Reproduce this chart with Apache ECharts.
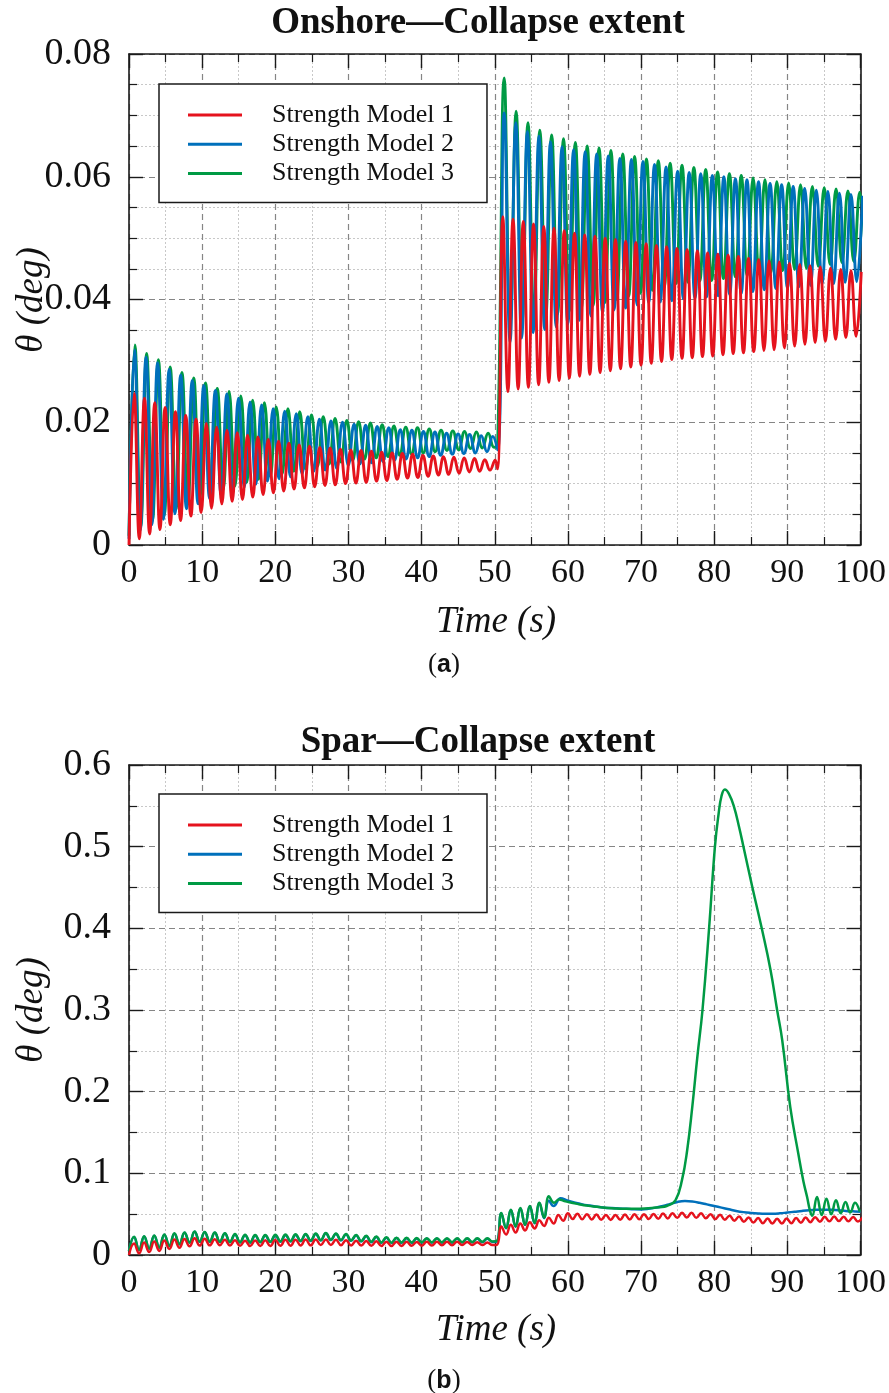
<!DOCTYPE html>
<html>
<head>
<meta charset="utf-8">
<script src="https://cdn.jsdelivr.net/npm/echarts@6/dist/echarts.min.js"></script>
<style>
  html, body { margin: 0; padding: 0; background: #fff; }
  #chart { width: 889px; height: 1393px; }
</style>
</head>
<body>
<div id="chart"></div>
<script>
// ---------------- DATA ----------------
const NAMES = ['Strength Model 1', 'Strength Model 2', 'Strength Model 3'];
const COLORS = ['#e5131d', '#0070bb', '#009a44'];

const X_TICKS = [0, 10, 20, 30, 40, 50, 60, 70, 80, 90, 100];
const TOP_Y_TICKS = [0, 0.02, 0.04, 0.06, 0.08];
const BOT_Y_TICKS = [0, 0.1, 0.2, 0.3, 0.4, 0.5, 0.6];

// Runs of successive extrema: *_T = [time of first value (s), time between values (s)]
// ---- (a) Onshore ----
const TOP_RED_A_T = [0, 0.705];
const TOP_RED_A = [0, .0247, .0010, .0239, .0018, .0232, .0025, .0224, .0033, .0217, .0040,
  .0211, .0047, .0205, .0053, .0198, .0060, .0192, .0067, .0187, .0071,
  .0183, .0074, .0179, .0078, .0176, .0082, .0172, .0085, .0169, .0088,
  .0166, .0091, .0163, .0093, .0161, .0095, .0159, .0097, .0158, .0098,
  .0156, .0100, .0155, .0101, .0154, .0102, .0153, .0104, .0151, .0105,
  .0150, .0107, .0149, .0109, .0148, .0110, .0146, .0112, .0145, .0114,
  .0144, .0115, .0143, .0117, .0142, .0119, .0141, .0120, .0139, .0122, .0138];
const TOP_RED_JUMP = [[50.38, 0.0124]];
const TOP_RED_B_T = [51.1, 0.70];
const TOP_RED_B = [.0535, .0250, .0531, .0254, .0527, .0257, .0523, .0261, .0519, .0265,
  .0516, .0268, .0512, .0272, .0508, .0275, .0505, .0278, .0503, .0281,
  .0500, .0284, .0498, .0287, .0495, .0290, .0493, .0293, .0491, .0296,
  .0488, .0299, .0486, .0302, .0483, .0304, .0481, .0305, .0479, .0307,
  .0476, .0308, .0474, .0310, .0472, .0312, .0470, .0313, .0467, .0315,
  .0465, .0317, .0463, .0318, .0461, .0321, .0459, .0324, .0457, .0327,
  .0455, .0330, .0453, .0332, .0451, .0335, .0449, .0338, .0447, .0340, .0445];

const TOP_BLUE_START = [[0, 0.0010]];
const TOP_BLUE_A_T = [0.75, 0.79];
const TOP_BLUE_A = [.0318, .0024, .0306, .0033, .0297, .0042, .0286, .0051, .0277, .0059,
  .0268, .0067, .0260, .0076, .0252, .0082, .0246, .0088, .0239, .0094,
  .0233, .0099, .0228, .0104, .0222, .0108, .0218, .0111, .0214, .0116,
  .0209, .0120, .0205, .0122, .0202, .0125, .0200, .0130, .0197, .0132,
  .0195, .0134, .0193, .0136, .0191, .0138, .0188, .0140, .0187, .0142,
  .0185, .0144, .0184, .0146, .0182, .0148, .0181, .0149, .0180, .0150,
  .0178, .0152, .0177];
const TOP_BLUE_JUMP = [[50.4, 0.0155]];
const TOP_BLUE_B_T = [51.3, 0.79];
const TOP_BLUE_B = [.0704, .0330, .0688, .0337, .0674, .0346, .0666, .0351, .0657, .0355,
  .0649, .0360, .0644, .0366, .0641, .0373, .0637, .0379, .0634, .0383,
  .0630, .0386, .0628, .0391, .0625, .0395, .0620, .0396, .0616, .0398,
  .0609, .0401, .0607, .0402, .0605, .0404, .0602, .0406, .0600, .0408,
  .0597, .0410, .0595, .0413, .0592, .0416, .0589, .0418, .0587, .0419,
  .0584, .0421, .0581, .0423, .0578, .0425, .0576, .0426, .0573, .0428,
  .0571, .0429, .0569];

const TOP_GREEN_START = [[0, 0.0015]];
const TOP_GREEN_A_T = [0.8, 0.805];
const TOP_GREEN_A = [.0326, .0030, .0312, .0040, .0302, .0049, .0290, .0059, .0281, .0067,
  .0272, .0075, .0264, .0084, .0255, .0090, .0250, .0096, .0243, .0102,
  .0236, .0107, .0232, .0112, .0225, .0116, .0222, .0120, .0217, .0124,
  .0212, .0128, .0209, .0132, .0206, .0135, .0203, .0138, .0201, .0140,
  .0199, .0142, .0196, .0144, .0194, .0146, .0192, .0148, .0191, .0150,
  .0189, .0152, .0187, .0154, .0186, .0155, .0185, .0157, .0184, .0158,
  .0182, .0159];
const TOP_GREEN_JUMP = [[50.4, 0.0165]];
const TOP_GREEN_B_T = [51.3, 0.81];
const TOP_GREEN_B = [.0761, .0360, .0707, .0363, .0688, .0371, .0676, .0373, .0668, .0376,
  .0662, .0381, .0656, .0385, .0650, .0390, .0647, .0395, .0643, .0400,
  .0637, .0405, .0633, .0410, .0629, .0415, .0626, .0420, .0622, .0426,
  .0619, .0428, .0615, .0430, .0612, .0431, .0608, .0434, .0605, .0437,
  .0602, .0439, .0598, .0442, .0595, .0444, .0592, .0447, .0590, .0449,
  .0587, .0451, .0584, .0454, .0582, .0457, .0580, .0460, .0577, .0462,
  .0575, .0463];

// ---- (b) Spar ----
const BOT_RED_A_T = [0, 0.69];
const BOT_RED_A = [0, .0140, .0020, .0152, .0037, .0165, .0050, .0178, .0073, .0190,
  .0088, .0196, .0106, .0204, .0115, .0200, .0118, .0192, .0120, .0186,
  .0115, .0180, .0112, .0176, .0110, .0178, .0110, .0181, .0110, .0184,
  .0112, .0186, .0114, .0188, .0116, .0190, .0118, .0191, .0121, .0190,
  .0122, .0186, .0120, .0182, .0117, .0175, .0115, .0171, .0113, .0167,
  .0111, .0163, .0110, .0162, .0111, .0161, .0112, .0160, .0114, .0161,
  .0116, .0162, .0118, .0163, .0120, .0163, .0122, .0160, .0122, .0156,
  .0122, .0152, .0122];
const BOT_RED_JUMP = [[50.3, 0.0125]];
const BOT_RED_B_T = [50.9, 0.65];
const BOT_RED_B = [.0350, .0250, .0370, .0275, .0385, .0300, .0400, .0325, .0425, .0355,
  .0455, .0385, .0490, .0420, .0510, .0440, .0505, .0438, .0500, .0435,
  .0495, .0432, .0490, .0430, .0490, .0432, .0495, .0435, .0498, .0438,
  .0500, .0440, .0503, .0443, .0507, .0448, .0512, .0455, .0518, .0458,
  .0518, .0456, .0510, .0450, .0500, .0440, .0492, .0432, .0482, .0420,
  .0470, .0408, .0460, .0398, .0452, .0390, .0446, .0385, .0443, .0385,
  .0446, .0390, .0452, .0396, .0458, .0402, .0463, .0407, .0467, .0412,
  .0470, .0415, .0468, .0413, .0465, .0410, .0462];

const BOT_BLUE_A_T = [0, 0.69];
const BOT_BLUE_A = [.0050, .0220, .0060, .0226, .0077, .0235, .0088, .0248, .0110, .0261,
  .0130, .0272, .0150, .0285, .0160, .0280, .0160, .0272, .0159, .0262,
  .0156, .0252, .0152, .0243, .0151, .0240, .0155, .0240, .0158, .0240,
  .0162, .0243, .0165, .0246, .0168, .0251, .0172, .0258, .0178, .0265,
  .0183, .0258, .0178, .0250, .0173, .0240, .0165, .0230, .0156, .0220,
  .0148, .0210, .0146, .0207, .0147, .0205, .0148, .0202, .0150, .0201,
  .0150, .0201, .0151, .0200, .0151, .0200, .0152, .0200, .0154, .0200,
  .0156, .0200, .0160];
const BOT_BLUE_JUMP = [[50.3, 0.0165]];
const BOT_BLUE_B_T = [50.9, 0.65];
const BOT_BLUE_B = [.0510, .0327, .0550, .0347, .0570, .0367, .0596, .0388, .0637, .0450, .0665, .0600];
const BOT_BLUE_C_T = [59, 1];
const BOT_BLUE_C = [.0695, .0665, .0640, .0620, .0605, .0590, .0580, .0575, .0570, .0565,
  .0560, .0558, .0565, .0580, .0600, .0625, .0650, .0660, .0655, .0640,
  .0620, .0600, .0580, .0560, .0540, .0525, .0515, .0508, .0505, .0505,
  .0510, .0520, .0530, .0540, .0548, .0553, .0555, .0553, .0548, .0540,
  .0535, .0530];

const BOT_GREEN_A_T = [0, 0.69];
const BOT_GREEN_A = [.0050, .0224, .0064, .0230, .0080, .0240, .0092, .0252, .0114, .0265,
  .0134, .0276, .0154, .0288, .0164, .0283, .0164, .0276, .0163, .0266,
  .0160, .0257, .0157, .0248, .0156, .0245, .0160, .0246, .0163, .0247,
  .0167, .0250, .0170, .0253, .0173, .0258, .0177, .0264, .0182, .0270,
  .0187, .0264, .0183, .0256, .0178, .0246, .0170, .0236, .0161, .0226,
  .0153, .0216, .0151, .0212, .0152, .0210, .0153, .0207, .0155, .0206,
  .0155, .0206, .0156, .0205, .0156, .0205, .0157, .0205, .0159, .0205,
  .0161, .0205, .0165];
const BOT_GREEN_JUMP = [[50.3, 0.0170]];
const BOT_GREEN_B_T = [50.9, 0.65];
const BOT_GREEN_B = [.0515, .0330, .0555, .0350, .0575, .0370, .0600, .0392, .0640, .0460, .0718];
// [time (s), θ (deg)] pairs read along the collapse peak and after it
const BOT_GREEN_C = [[58.1, .0640], [58.8, .0680], [59.5, .0660], [60.5, .0640], [61.5, .0622],
  [62.5, .0605], [63.5, .0595], [64.5, .0585], [65.5, .0576], [66.5, .0570], [67.5, .0566],
  [68.5, .0565], [69.5, .0567], [70.5, .0570], [71.5, .0576], [72.5, .0585], [73.5, .0600],
  [74.7, .0670], [75.6, .0920], [76.3, .1280], [77.0, .1810], [77.7, .2430], [78.4, .3000],
  [79.3, .4000], [80.1, .5000], [80.6, .5400], [81.0, .5620], [81.45, .5700], [82.0, .5650],
  [82.7, .5490], [83.4, .5240], [84.0, .5000], [85.2, .4510], [86.5, .4000], [87.7, .3490],
  [88.6, .3000], [89.3, .2630], [90.4, .1810], [91.5, .1240], [92.2, .0900], [92.7, .0710],
  [93.1, .0540], [93.4, .0480], [94.05, .0710], [94.7, .0490], [95.35, .0690], [96.0, .0500],
  [96.65, .0670], [97.3, .0510], [97.95, .0650], [98.6, .0520], [99.25, .0640], [99.9, .0530]];

// ---------------- BUILD ----------------
function seq(spec, vals) {
  return vals.map((v, i) => [Math.round((spec[0] + i * spec[1]) * 1000) / 1000, v]);
}
const topRed = [...seq(TOP_RED_A_T, TOP_RED_A), ...TOP_RED_JUMP, ...seq(TOP_RED_B_T, TOP_RED_B)];
const topBlue = [...TOP_BLUE_START, ...seq(TOP_BLUE_A_T, TOP_BLUE_A), ...TOP_BLUE_JUMP, ...seq(TOP_BLUE_B_T, TOP_BLUE_B)];
const topGreen = [...TOP_GREEN_START, ...seq(TOP_GREEN_A_T, TOP_GREEN_A), ...TOP_GREEN_JUMP, ...seq(TOP_GREEN_B_T, TOP_GREEN_B)];
const botRed = [...seq(BOT_RED_A_T, BOT_RED_A), ...BOT_RED_JUMP, ...seq(BOT_RED_B_T, BOT_RED_B)];
const botBlue = [...seq(BOT_BLUE_A_T, BOT_BLUE_A), ...BOT_BLUE_JUMP, ...seq(BOT_BLUE_B_T, BOT_BLUE_B), ...seq(BOT_BLUE_C_T, BOT_BLUE_C)];
const botGreen = [...seq(BOT_GREEN_A_T, BOT_GREEN_A), ...BOT_GREEN_JUMP, ...seq(BOT_GREEN_B_T, BOT_GREEN_B), ...BOT_GREEN_C];

const SERIF = '"Liberation Serif", "Times New Roman", serif';
const INK = '#1a1a1a';

function xAxes(gi) {
  const base = {
    gridIndex: gi, type: 'value',
    min: X_TICKS[0], max: X_TICKS[X_TICKS.length - 1], interval: X_TICKS[1] - X_TICKS[0],
    axisLine: { show: true, onZero: false, lineStyle: { color: INK, width: 1.6 } },
    axisTick: { show: true, inside: true, length: 14, lineStyle: { color: INK, width: 1.4 } },
    minorTick: { show: true, splitNumber: 2, length: 8, lineStyle: { color: INK, width: 1.2 } }
  };
  return [
    Object.assign({}, base, {
      position: 'bottom',
      axisLabel: { show: true, margin: 11, fontFamily: SERIF, fontSize: 34, color: '#111' },
      splitLine: { show: true, lineStyle: { color: '#858585', width: 1.2, type: [6, 4] } },
      minorSplitLine: { show: true, lineStyle: { color: '#c8c8c8', width: 1, type: [2, 2] } }
    }),
    Object.assign({}, base, {
      position: 'top',
      axisLabel: { show: false }, splitLine: { show: false }, minorSplitLine: { show: false }
    })
  ];
}
function yAxes(gi, ticks, minorSplit) {
  const base = {
    gridIndex: gi, type: 'value',
    min: ticks[0], max: ticks[ticks.length - 1], interval: ticks[1] - ticks[0],
    axisLine: { show: true, onZero: false, lineStyle: { color: INK, width: 1.6 } },
    axisTick: { show: true, inside: true, length: 14, lineStyle: { color: INK, width: 1.4 } },
    minorTick: { show: true, splitNumber: minorSplit, length: 8, lineStyle: { color: INK, width: 1.2 } }
  };
  return [
    Object.assign({}, base, {
      position: 'left',
      axisLabel: { show: true, margin: 18, fontFamily: SERIF, fontSize: 38, color: '#111',
        formatter: v => { const i = ticks.findIndex(t => Math.abs(t - v) < 1e-9); return i >= 0 ? String(ticks[i]) : ''; } },
      splitLine: { show: true, lineStyle: { color: '#858585', width: 1.2, type: [6, 4] } },
      minorSplitLine: { show: true, lineStyle: { color: '#c8c8c8', width: 1, type: [2, 2] } }
    }),
    Object.assign({}, base, {
      position: 'right',
      axisLabel: { show: false }, splitLine: { show: false }, minorSplitLine: { show: false }
    })
  ];
}
function line(name, data, color, xi, yi, w) {
  return {
    name, type: 'line', data, xAxisIndex: xi, yAxisIndex: yi,
    symbol: 'none', showSymbol: false, smooth: 0.45, clip: true,
    lineStyle: { color, width: w }, itemStyle: { color },
    emphasis: { disabled: true }, silent: true, z: 3
  };
}
function legendAt(top) {
  return {
    orient: 'vertical', left: 159, top, data: NAMES, selectedMode: false,
    icon: 'rect', itemWidth: 54, itemHeight: 3, itemGap: 1.3,
    backgroundColor: '#fff', borderColor: INK, borderWidth: 1.5, borderRadius: 0,
    padding: [17, 33, 15, 29],
    textStyle: { fontFamily: SERIF, fontSize: 26, lineHeight: 28, color: '#111', padding: [0, 0, 0, 25] },
    z: 10
  };
}
function txt(x, y, text, font, rot) {
  return { type: 'text', x, y, rotation: rot || 0, z: 20,
    style: { text, font, fill: '#111', align: 'center', verticalAlign: 'middle' } };
}
function panelTag(y, letter) {
  return { type: 'text', x: 444, y, z: 20, style: { text: '{n|(}{b|' + letter + '})'.replace('})', '}{n|)}'),
    align: 'center', verticalAlign: 'middle', fill: '#111',
    rich: { n: { fontFamily: SERIF, fontSize: 27, fill: '#111' },
            b: { fontFamily: '"Liberation Sans", sans-serif', fontWeight: 'bold', fontSize: 25, fill: '#111' } } } };
}

const chart = echarts.init(document.getElementById('chart'), null, { renderer: 'canvas' });
chart.setOption({
  animation: false,
  backgroundColor: '#fff',
  grid: [
    { left: 129, top: 54, width: 733, height: 491, containLabel: false },
    { left: 129, top: 765, width: 733, height: 490, containLabel: false }
  ],
  xAxis: [...xAxes(0), ...xAxes(1)],
  yAxis: [...yAxes(0, TOP_Y_TICKS, 4), ...yAxes(1, BOT_Y_TICKS, 2)],
  legend: [legendAt(84), legendAt(794)],
  series: [
    line(NAMES[2], topGreen, COLORS[2], 0, 0, 2.9),
    line(NAMES[1], topBlue, COLORS[1], 0, 0, 2.9),
    line(NAMES[0], topRed, COLORS[0], 0, 0, 2.9),
    line(NAMES[1], botBlue, COLORS[1], 2, 2, 2.5),
    line(NAMES[2], botGreen, COLORS[2], 2, 2, 2.5),
    line(NAMES[0], botRed, COLORS[0], 2, 2, 2.5)
  ],
  graphic: [
    txt(478, 23, 'Onshore—Collapse extent', 'bold 37px ' + SERIF),
    txt(478, 742, 'Spar—Collapse extent', 'bold 37px ' + SERIF),
    txt(496, 622, 'Time (s)', 'italic 37px ' + SERIF),
    txt(496, 1330, 'Time (s)', 'italic 37px ' + SERIF),
    txt(32, 300, 'θ (deg)', 'italic 37px ' + SERIF, Math.PI / 2),
    txt(32, 1010, 'θ (deg)', 'italic 37px ' + SERIF, Math.PI / 2),
    panelTag(665, 'a'),
    panelTag(1381, 'b')
  ]
});
</script>
</body>
</html>
